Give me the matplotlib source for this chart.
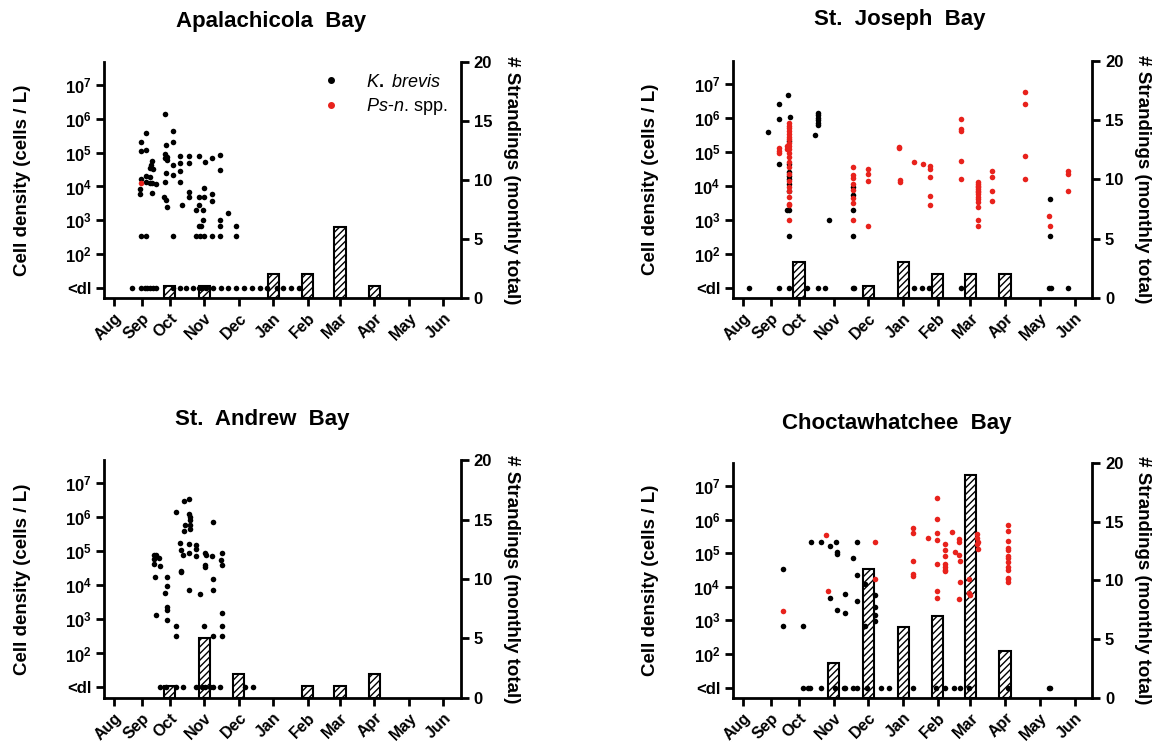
import numpy as np
import matplotlib
matplotlib.use('Agg')
import matplotlib.pyplot as plt
from matplotlib.lines import Line2D

plt.rcParams['font.family'] = ['Liberation Sans', 'DejaVu Sans']
plt.rcParams['font.weight'] = 'bold'
plt.rcParams['mathtext.fontset'] = 'custom'
plt.rcParams['mathtext.rm'] = 'Liberation Sans:bold'
plt.rcParams['mathtext.bf'] = 'Liberation Sans:bold'
plt.rcParams['mathtext.it'] = 'Liberation Sans:italic:normal'
plt.rcParams['hatch.linewidth'] = 1.0

MONTHS = ['Aug', 'Sep', 'Oct', 'Nov', 'Dec', 'Jan', 'Feb', 'Mar', 'Apr', 'May', 'Jun']
MONTH_DAY = [0, 25, 50, 81, 112, 143, 174, 203, 234, 265, 296]   # day index of month ticks
DL = 10.0   # "<dl" plotted one decade below 10^2
RED = '#e8221c'

# ---------------- Apalachicola Bay ----------------
apa_kb_day = [24, 24, 24, 23, 23, 24, 29, 29, 29, 29, 29, 34, 33, 32, 35, 32, 32, 34, 34, 38,
              46, 47, 46, 48, 46, 48, 47, 46, 45, 47, 48, 53, 53, 53, 53, 53, 59, 59, 59, 59, 61,
              67, 67, 67, 67, 76, 76, 76, 74, 76, 74, 82, 81, 81, 80, 80, 78, 81, 77,
              88, 88, 88, 88, 95, 95, 95, 95, 95, 102, 110, 110]
apa_kb_log = [5.30, 5.06, 4.21, 3.91, 3.77, 2.53, 5.57, 5.09, 4.30, 4.14, 2.53, 4.75, 4.63, 4.56, 4.53, 4.27, 4.11, 4.09, 3.81, 4.06,
              6.13, 5.22, 4.96, 4.88, 4.83, 4.78, 4.40, 4.14, 3.69, 3.59, 3.38, 5.65, 5.32, 4.63, 4.33, 2.53, 4.90, 4.68, 4.46, 4.14, 3.45,
              4.90, 4.68, 3.84, 3.69, 4.90, 3.69, 3.45, 3.30, 2.82, 2.53, 4.73, 3.94, 3.69, 3.30, 3.00, 2.82, 2.53, 2.53,
              4.83, 3.77, 3.57, 2.53, 4.93, 4.48, 3.00, 2.82, 2.53, 3.22, 2.82, 2.53]
apa_ps_day = [24]
apa_ps_log = [4.09]
apa_dl_day = [16, 24, 28, 30, 32, 35, 38, 53, 59, 65, 71, 76, 79, 83, 89, 96, 102, 110, 117, 124,
              131, 137, 146, 152, 159, 166]
apa_strand = [0, 0, 1, 1, 0, 2, 2, 6, 1, 0, 0]

# ---------------- St. Joseph Bay ----------------
stj_kb_day = [22, 32, 32, 32, 40, 42, 41, 41, 41, 41, 41, 41, 41, 41, 39, 41,
              64, 67, 67, 67, 67, 67, 67, 77, 98, 98, 98, 98, 274, 274]
stj_kb_log = [5.59, 6.39, 5.95, 4.65, 6.68, 6.02, 5.32, 4.63, 4.39, 4.29, 4.20, 4.05, 3.85, 3.29, 3.29, 2.51,
              5.49, 6.14, 6.07, 6.00, 5.92, 5.85, 5.78, 3.00, 3.97, 3.74, 3.29, 2.51, 3.61, 2.51]
stj_ps_day = [32, 32, 32, 39, 39] + [41] * 22 + [98] * 8 + [112] * 4 + [139, 139, 140, 140, 153, 161] + [167] * 5 \
             + [195] * 5 + [210] * 14 + [222] * 4 + [252] * 4 + [273, 274, 290, 290, 290]
stj_ps_log = [5.12, 5.02, 4.95, 5.17, 5.07,
              5.85, 5.75, 5.69, 5.61, 5.51, 5.43, 5.36, 5.27, 5.17, 5.07, 4.97, 4.83, 4.71, 4.54, 4.34, 4.15,
              3.95, 3.85, 3.68, 3.47, 3.42, 2.98,
              4.54, 4.32, 4.24, 4.05, 3.87, 3.64, 3.48, 3.00,
              4.49, 4.34, 4.15, 2.83,
              5.15, 5.10, 4.17, 4.10, 4.71, 4.63,
              4.59, 4.49, 4.26, 3.71, 3.42,
              5.95, 5.66, 5.61, 4.73, 4.20,
              4.10, 4.05, 4.00, 3.95, 3.90, 3.85, 3.81, 3.76, 3.68, 3.61, 3.51, 3.39, 3.00, 2.83,
              4.44, 4.26, 3.85, 3.56,
              6.76, 6.41, 4.88, 4.20,
              3.10, 2.83, 4.42, 4.34, 3.85]
stj_dl_day = [5, 32, 41, 57, 67, 73, 98, 99, 153, 160, 166, 195, 273, 275, 290]
stj_strand = [0, 0, 3, 0, 1, 3, 2, 2, 2, 0, 0]

# ---------------- St. Andrew Bay ----------------
sta_kb_day = [36, 38, 36, 40, 36, 41, 37, 38, 48, 48, 46, 48, 48, 48, 56, 56, 56,
              59, 60, 62, 60, 60, 63, 67, 64, 63, 67, 68, 68, 68, 68, 67, 67, 67,
              74, 74, 74, 77, 82, 83, 82, 82, 81, 89, 88, 89, 89, 89, 97, 96, 97, 97, 97, 97]
sta_kb_log = [4.90, 4.90, 4.77, 4.80, 4.64, 4.57, 4.25, 3.13, 4.25, 3.98, 3.78, 3.37, 3.27, 2.98, 6.15, 2.81, 2.52,
              5.24, 5.03, 4.88, 4.41, 4.38, 6.49, 6.54, 5.76, 5.61, 6.10, 6.00, 5.91, 5.76, 5.66, 5.22, 4.96, 3.86,
              5.18, 5.08, 4.86, 3.74, 4.96, 4.90, 4.59, 4.54, 2.81, 5.86, 4.86, 4.20, 3.86, 2.52, 4.96, 4.74, 4.59, 3.20, 2.81, 2.52]
sta_ps_day = []
sta_ps_log = []
sta_dl_day = [41, 47, 56, 62, 74, 79, 82, 86, 89, 95, 118, 125]
sta_strand = [0, 0, 1, 5, 2, 0, 1, 1, 2, 0, 0]

# ---------------- Choctawhatchee Bay ----------------
cho_kb_day = [36, 36, 54, 61, 70, 78, 83, 84, 84, 78, 84, 91, 91, 98, 102, 102, 102, 109, 118, 118, 118, 118, 109]
cho_kb_log = [4.53, 2.82, 2.82, 5.34, 5.34, 5.20, 5.34, 5.04, 4.97, 3.67, 3.31, 3.80, 3.21, 4.85, 5.34, 4.34, 3.59,
              4.09, 3.77, 3.41, 3.16, 2.99, 2.82]
cho_ps_day = [36, 74, 76, 118, 118, 152, 152, 152, 152, 152, 165] + [173] * 7 + [180] * 7 \
             + [187, 189, 193, 193, 193, 194, 194, 193, 202, 202, 203, 209, 209, 210, 210, 209] + [237] * 13
cho_ps_log = [3.29, 5.53, 3.88, 5.34, 4.22, 5.76, 5.59, 4.78, 4.39, 4.33, 5.46,
              6.64, 6.03, 5.59, 5.40, 4.68, 3.87, 3.67,
              5.27, 5.10, 4.91, 4.68, 4.58, 4.51, 4.46,
              5.63, 5.04, 5.43, 5.32, 4.95, 4.78, 4.14, 3.63, 4.22, 3.83, 3.75, 5.56, 5.46, 5.34, 5.12, 5.27,
              5.83, 5.66, 5.37, 5.14, 5.10, 4.93, 4.85, 4.73, 4.58, 4.51, 4.26, 4.22, 4.14]
cho_dl_day = [54, 58, 60, 70, 82, 90, 91, 98, 102, 111, 123, 130, 152, 172, 180, 188, 194, 202, 237, 273, 274]
cho_strand = [0, 0, 0, 3, 11, 6, 7, 19, 4, 0, 0]


def draw_panel(rect, title, title_xy, kb_day, kb_log, ps_day, ps_log, dl_day, strand, legend=False):
    ax = fig.add_axes(rect)
    ax2 = ax.twinx()
    ax.set_zorder(ax2.get_zorder() + 1)
    ax.patch.set_visible(False)

    # strandings bars on the right axis
    bx = [MONTH_DAY[i] for i, v in enumerate(strand) if v > 0]
    bh = [v for v in strand if v > 0]
    ax2.bar(bx, bh, width=10, color='white', edgecolor='black', linewidth=1.5, hatch='/////')
    ax2.set_ylim(0, 20)
    ax2.set_yticks([0, 5, 10, 15, 20])

    # cell densities
    ax.scatter(kb_day, 10.0 ** np.array(kb_log), s=16, color='black', linewidths=0)
    if len(ps_day):
        ax.scatter(ps_day, 10.0 ** np.array(ps_log), s=16, color=RED, linewidths=0)
    ax.scatter(dl_day, [DL] * len(dl_day), s=16, color='black', linewidths=0)

    ax.set_yscale('log')
    ax.set_ylim(10 ** 0.7, 10 ** 7.68)
    ax.set_yticks([10 ** k for k in range(1, 8)])
    ax.set_yticklabels(['<dl'] + [r'$\mathbf{10^{%d}}$' % k for k in range(2, 8)])
    ax.yaxis.set_minor_locator(matplotlib.ticker.NullLocator())
    ax.set_xlim(-9, 312)
    ax.set_xticks(MONTH_DAY)
    ax.set_xticklabels(MONTHS, rotation=45, ha='right', rotation_mode='anchor')

    for a in (ax, ax2):
        a.spines['top'].set_visible(False)
        for sp in a.spines.values():
            sp.set_linewidth(2)
        a.tick_params(width=2, length=6, labelsize=12, direction='out', pad=3)
    ax.tick_params(axis='x', pad=3, labelsize=11.5)
    ax.spines['right'].set_visible(False)
    ax2.spines['left'].set_visible(False)
    ax2.spines['bottom'].set_visible(False)

    ax.set_ylabel('Cell density (cells / L)', fontsize=13.5, fontweight='bold')
    ax.yaxis.set_label_coords(-0.205, 0.5)
    ax2.set_ylabel('# Strandings (monthly total)', fontsize=13.5, fontweight='bold', rotation=270, va='center')
    ax2.yaxis.set_label_coords(1.14, 0.5)

    fig.text(title_xy[0] / 1156, 1 - title_xy[1] / 747, title, fontsize=16, fontweight='bold',
             ha='center', va='center')

    if legend:
        handles = [Line2D([], [], ls='', marker='o', markersize=4, color='black'),
                   Line2D([], [], ls='', marker='o', markersize=4, color=RED)]
        ax.legend(handles, [r'$\it{K.\ brevis}$', r'$\it{Ps}$-$\it{n}$. spp.'], loc='upper left',
                  bbox_to_anchor=(0.54, 1.02), frameon=False, handletextpad=0.9, labelspacing=0.3,
                  prop={'weight': 'normal', 'size': 13})
    return ax


fig = plt.figure(figsize=(11.56, 7.47), dpi=100)
draw_panel([0.090, 0.601, 0.309, 0.316], 'Apalachicola  Bay', (271, 22),
           apa_kb_day, apa_kb_log, apa_ps_day, apa_ps_log, apa_dl_day, apa_strand, legend=True)
draw_panel([0.634, 0.601, 0.311, 0.318], 'St.  Joseph  Bay', (900, 20),
           stj_kb_day, stj_kb_log, stj_ps_day, stj_ps_log, stj_dl_day, stj_strand)
draw_panel([0.090, 0.066, 0.309, 0.318], 'St.  Andrew  Bay', (262, 420),
           sta_kb_day, sta_kb_log, sta_ps_day, sta_ps_log, sta_dl_day, sta_strand)
draw_panel([0.634, 0.066, 0.311, 0.314], 'Choctawhatchee  Bay', (897, 423),
           cho_kb_day, cho_kb_log, cho_ps_day, cho_ps_log, cho_dl_day, cho_strand)

fig.savefig('out.png', dpi=100)
